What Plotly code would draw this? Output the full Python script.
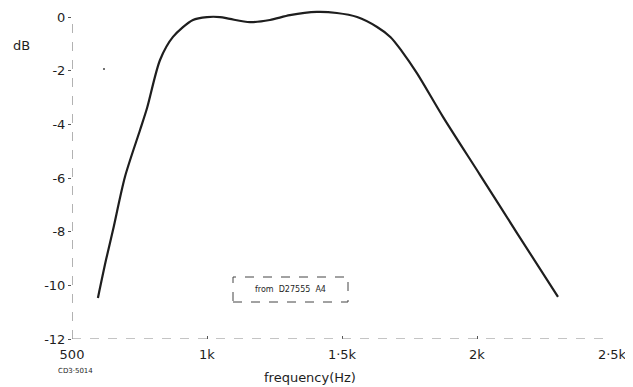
import plotly.graph_objects as go

freq_hz = [596, 626, 652, 696, 752, 778, 826, 874, 948, 1000, 1048, 1085, 1159, 1233,
           1307, 1407, 1481, 1556, 1630, 1680, 1720, 1778, 1874, 2011, 2150, 2300]
level_db = [-10.47, -9.05, -7.93, -5.96, -4.21, -3.39, -1.60, -0.74, -0.11, 0.0, 0.0, -0.07,
            -0.19, -0.11, 0.07, 0.19, 0.15, 0.0, -0.37, -0.75, -1.25, -2.1, -3.72, -5.88,
            -8.08, -10.43]

x_tick_vals = [500, 1000, 1500, 2000, 2500]
x_tick_text = ["500", "1k", "1·5k", "2k", "2·5k"]
y_tick_vals = [0, -2, -4, -6, -8, -10, -12]
y_tick_text = ["0", "-2", "-4", "-6", "-8", "-10", "-12"]

FONT = "DejaVu Sans"
INK = "#1e1e1e"

fig = go.Figure()
fig.add_trace(go.Scatter(
    x=freq_hz, y=level_db, mode="lines",
    line=dict(color=INK, width=2.2, shape="spline", smoothing=0.8),
    hoverinfo="skip", showlegend=False,
))

# page body has an 8px margin, so the figure is drawn 8px smaller and offset
fig.update_layout(
    width=625, height=379,
    margin=dict(l=64, r=21, t=1, b=48),
    paper_bgcolor="white", plot_bgcolor="white",
    font=dict(family=FONT, size=13, color=INK),
    showlegend=False,
    xaxis=dict(
        range=[500, 2500], tickvals=x_tick_vals, ticktext=x_tick_text,
        showgrid=False, zeroline=False, showline=False,
        ticks="inside", ticklen=3, tickcolor="#555", ticklabelstandoff=6,
        tickfont=dict(family=FONT, size=13, color=INK),
    ),
    yaxis=dict(
        range=[-12, 0.3], tickvals=y_tick_vals, ticktext=y_tick_text,
        showgrid=False, zeroline=False, showline=False,
        ticks="outside", ticklen=3, tickcolor="#555",
        tickfont=dict(family=FONT, size=13, color=INK),
    ),
    shapes=[
        dict(type="line", xref="x", yref="y", x0=500, x1=500, y0=-12, y1=0,
             line=dict(color="#666", width=1, dash="dash")),
        dict(type="line", xref="x", yref="y", x0=500, x1=2500, y0=-12, y1=-12,
             line=dict(color="#888", width=1, dash="dash")),
        dict(type="rect", xref="paper", yref="paper",
             x0=(233 - 72) / 540, x1=(348 - 72) / 540,
             y0=(339 - 302) / 330, y1=(339 - 277) / 330,
             line=dict(color="#444", width=1, dash="dash")),
        dict(type="circle", xref="paper", yref="paper",
             x0=(103 - 72) / 540, x1=(105 - 72) / 540,
             y0=(339 - 70) / 330, y1=(339 - 68) / 330,
             fillcolor="#444", line=dict(width=0)),
    ],
    annotations=[
        dict(text="dB", xref="paper", yref="paper",
             x=(21 - 72) / 540, y=(339 - 45) / 330, showarrow=False,
             xanchor="center", yanchor="middle",
             font=dict(family=FONT, size=13, color=INK)),
        dict(text="frequency(Hz)", xref="paper", yref="paper",
             x=(310 - 72) / 540, y=(339 - 377) / 330, showarrow=False,
             xanchor="center", yanchor="middle",
             font=dict(family=FONT, size=13, color=INK)),
        dict(text="CD3·5014", xref="paper", yref="paper",
             x=(75 - 72) / 540, y=(339 - 371) / 330, showarrow=False,
             xanchor="center", yanchor="middle",
             font=dict(family=FONT, size=7, color=INK)),
        dict(text="from  D27555  A4", xref="paper", yref="paper",
             x=(290 - 72) / 540, y=(339 - 289) / 330, showarrow=False,
             xanchor="center", yanchor="middle",
             font=dict(family=FONT, size=8, color=INK)),
    ],
)

fig.write_html("out.html")
